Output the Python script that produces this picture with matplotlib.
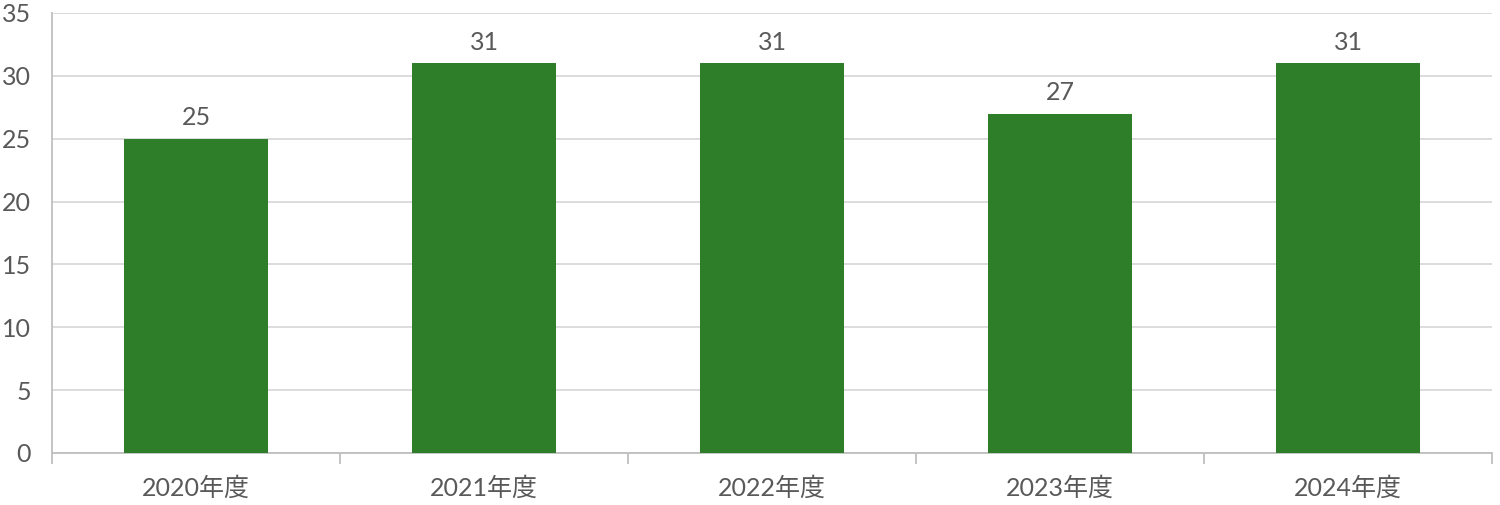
import matplotlib
matplotlib.use("Agg")
import matplotlib.pyplot as plt
from matplotlib.ticker import FixedLocator

plt.rcParams['font.family'] = ['Lato', 'Noto Sans CJK JP', 'DejaVu Sans']

categories = ["2020年度", "2021年度", "2022年度", "2023年度", "2024年度"]
values = [25, 31, 31, 27, 31]
yticks = [0, 5, 10, 15, 20, 25, 30, 35]

text_color = "#595959"
bar_color = "#2E7D28"
grid_color = "#D9D9D9"
axis_color = "#BFBFBF"

fig = plt.figure(figsize=(15, 5.05), dpi=100)
ax = fig.add_axes([52/1500, 1 - 453/505, 1440/1500, 440/505])

x = list(range(len(categories)))
bars = ax.bar(x, values, width=0.5, color=bar_color, zorder=3)
for xi, v in zip(x, values):
    ax.text(xi, v + 0.75, str(v), ha="center", va="bottom", fontsize=18, color=text_color)

ax.set_xlim(-0.5, len(categories) - 0.5)
ax.set_ylim(0, 35)
ax.set_yticks(yticks)
ax.set_yticklabels([str(t) for t in yticks], fontsize=18, color=text_color)
ax.yaxis.grid(True, color=grid_color, linewidth=1.3, zorder=0)
ax.tick_params(axis="y", length=0, pad=15)

ax.set_xticks(x)
ax.set_xticklabels(categories, fontsize=18, color=text_color)
ax.xaxis.set_minor_locator(FixedLocator([i - 0.5 for i in range(len(categories) + 1)]))
ax.tick_params(axis="x", which="major", length=0, pad=17)
ax.tick_params(axis="x", which="minor", length=8, color=axis_color, width=1.3)

for s in ["top", "right"]:
    ax.spines[s].set_visible(False)
ax.spines["left"].set_color(axis_color)
ax.spines["bottom"].set_color(axis_color)
ax.spines["left"].set_linewidth(1.3)
ax.spines["bottom"].set_linewidth(1.3)

fig.savefig("out.png", dpi=100)
